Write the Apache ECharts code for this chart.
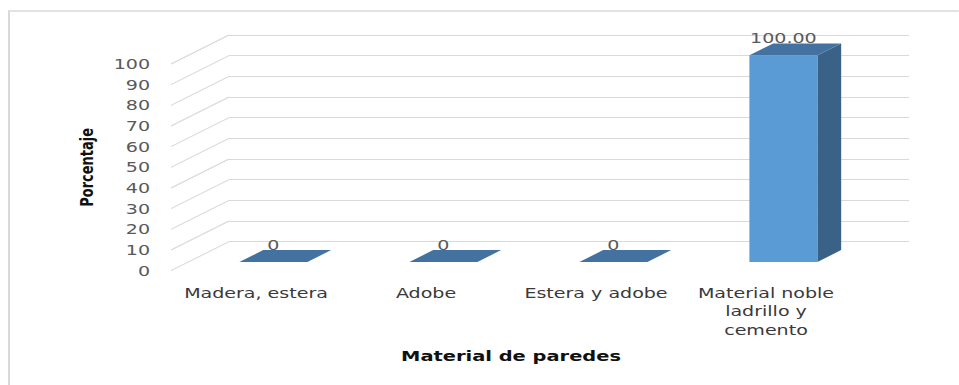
<!DOCTYPE html>
<html>
<head>
<meta charset="utf-8">
<title>Material de paredes</title>
<script src="https://cdn.jsdelivr.net/npm/echarts@6/dist/echarts.min.js"></script>
<style>
  html, body { margin: 0; padding: 0; background: #fff; overflow: hidden; }
  #chart { height: 385px; transform-origin: 0 0; }
</style>
</head>
<body>
<div id="chart"></div>
<script>
// Data
const CATEGORIES = ['Madera, estera', 'Adobe', 'Estera y adobe', 'Material noble\nladrillo y\ncemento'];
const VALUES = [0, 0, 0, 100];
const Y_TICKS = [0, 10, 20, 30, 40, 50, 60, 70, 80, 90, 100];

// The chart is laid out narrower and widened horizontally, giving the wide lettering.
const STRETCH = 1.36;
const PAGE_W = 959, PAGE_H = 385;
const W = PAGE_W / STRETCH;
const sx = v => v / STRETCH;

// Front plane of the 3D box (page pixels) and the depth offset to the back wall.
const FRONT = { left: 171, top: 64, width: 680, height: 206.7 };
const DEPTH = { x: 58, y: 29 };
const BAR = { front: 0.30, back: 0.71, width: 0.40 };

const COLORS = {
  grid: '#d9d9d9',
  face: '#5b9bd5',
  side: '#3a6287',
  top: '#4472a0',
  tickLabel: '#595959',
  catLabel: '#3a3a3a',
  title: '#111111'
};
const FONT = '"DejaVu Sans", Verdana, sans-serif';

const el = document.getElementById('chart');
el.style.width = W + 'px';
el.style.transform = 'scaleX(' + STRETCH + ')';
const chart = echarts.init(el, null, { renderer: 'svg' });

const dX = sx(DEPTH.x), dY = DEPTH.y;

// Side-wall gridlines running from the front plane back to the rear wall.
function renderWallLine(params, api) {
  const v = api.value(1);
  const p = api.coord([0, v]);
  const band = api.size([1, 0])[0];
  const x = p[0] - band / 2;
  return {
    type: 'line',
    shape: { x1: x, y1: p[1], x2: x + dX, y2: p[1] - dY },
    style: { stroke: COLORS.grid, lineWidth: 1 },
    silent: true
  };
}

// 3D column: front face, right side, top and value label.
function renderBar(params, api) {
  const cat = api.value(0), v = api.value(1);
  const base = api.coord([cat, 0]);
  const top = api.coord([cat, v]);
  const band = api.size([1, 0])[0];
  const w = band * BAR.width;
  const x0 = base[0] + BAR.front * dX - w / 2;
  const x1 = x0 + w;
  const yb = base[1] - BAR.front * dY;
  const yt = top[1] - BAR.front * dY;
  const ex = (BAR.back - BAR.front) * dX;
  const ey = (BAR.back - BAR.front) * dY;
  const children = [];
  if (yb - yt > 0.5) {
    children.push({
      type: 'polygon',
      shape: { points: [[x1, yb], [x1 + ex, yb - ey], [x1 + ex, yt - ey], [x1, yt]] },
      style: { fill: COLORS.side }
    });
    children.push({
      type: 'rect',
      shape: { x: x0, y: yt, width: w, height: yb - yt },
      style: { fill: COLORS.face }
    });
  }
  children.push({
    type: 'polygon',
    shape: { points: [[x0, yt], [x1, yt], [x1 + ex, yt - ey], [x0 + ex, yt - ey]] },
    style: { fill: COLORS.top }
  });
  children.push({
    type: 'text',
    style: {
      text: v === 0 ? '0' : v.toFixed(2),
      x: x0 + w / 2,
      y: yt - ey + 2,
      align: 'center',
      verticalAlign: 'bottom',
      fill: COLORS.tickLabel,
      font: '14px ' + FONT
    }
  });
  return { type: 'group', children: children };
}

const yMin = Y_TICKS[0], yMax = Y_TICKS[Y_TICKS.length - 1], yStep = Y_TICKS[1] - Y_TICKS[0];

chart.setOption({
  backgroundColor: '#ffffff',
  animation: false,
  graphic: [{
    type: 'rect',
    shape: { x: sx(9), y: 11, width: W + 50, height: PAGE_H + 50 },
    style: { fill: 'none', stroke: '#d9d9d9', lineWidth: 1.5 },
    silent: true,
    z: -10
  }],
  grid: [
    { left: sx(FRONT.left), top: FRONT.top, width: sx(FRONT.width), height: FRONT.height },
    { left: sx(FRONT.left + DEPTH.x), top: FRONT.top - DEPTH.y, width: sx(FRONT.width), height: FRONT.height }
  ],
  xAxis: [{
    gridIndex: 0,
    type: 'category',
    data: CATEGORIES,
    axisLine: { show: false },
    axisTick: { show: false },
    splitLine: { show: false },
    axisLabel: {
      interval: 0,
      margin: 13,
      color: COLORS.catLabel,
      fontFamily: FONT,
      fontSize: 14,
      lineHeight: 18.5
    },
    name: 'Material de paredes',
    nameLocation: 'middle',
    nameGap: 78,
    nameTextStyle: { color: COLORS.title, fontFamily: FONT, fontWeight: 'bold', fontSize: 14.3 }
  }, {
    gridIndex: 1,
    type: 'category',
    data: CATEGORIES,
    show: false
  }],
  yAxis: [{
    gridIndex: 0,
    type: 'value',
    min: yMin, max: yMax, interval: yStep,
    axisLine: { show: false },
    axisTick: { show: false },
    splitLine: { show: false },
    axisLabel: { margin: sx(21), color: COLORS.tickLabel, fontFamily: FONT, fontSize: 14 },
    name: 'Porcentaje',
    nameLocation: 'middle',
    nameRotate: 90,
    nameGap: 55,
    nameTextStyle: { color: COLORS.title, fontFamily: FONT, fontWeight: 'bold', fontSize: 13 }
  }, {
    gridIndex: 1,
    type: 'value',
    min: yMin, max: yMax, interval: yStep,
    axisLine: { show: false },
    axisTick: { show: false },
    axisLabel: { show: false },
    splitLine: { show: true, lineStyle: { color: COLORS.grid, width: 1 } }
  }],
  series: [{
    type: 'custom',
    name: 'walls',
    xAxisIndex: 0, yAxisIndex: 0,
    clip: false,
    silent: true,
    renderItem: renderWallLine,
    data: Y_TICKS.map(v => [0, v]),
    z: 1
  }, {
    type: 'custom',
    name: 'Porcentaje',
    xAxisIndex: 0, yAxisIndex: 0,
    clip: false,
    renderItem: renderBar,
    encode: { x: 0, y: 1 },
    data: VALUES.map((v, i) => [i, v]),
    z: 5
  }]
});
</script>
</body>
</html>
